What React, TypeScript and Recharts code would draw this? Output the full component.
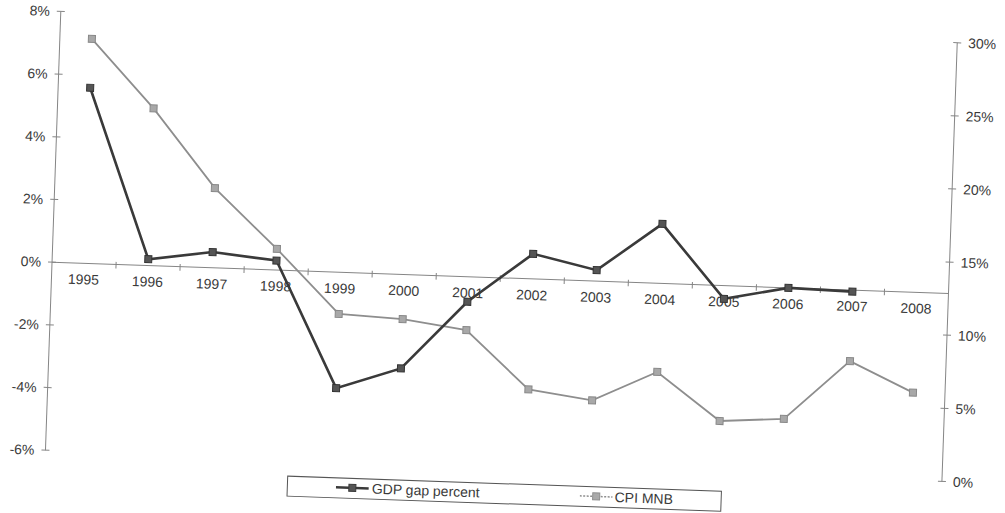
import React from 'react';
import { LineChart, Line, XAxis, YAxis, ReferenceLine, ReferenceDot, Legend } from 'recharts';

const years = [1995, 1996, 1997, 1998, 1999, 2000, 2001, 2002, 2003, 2004, 2005, 2006, 2007, 2008];
const gdpGap: (number | null)[] = [5.6, 0.2, 0.5, 0.3, -3.7, -3.0, -0.8, 0.8, 0.35, 1.9, -0.42, 0.0, -0.05, null];
const cpiMnb = [28.2, 23.6, 18.3, 14.3, 10.0, 9.8, 9.2, 5.3, 4.7, 6.8, 3.6, 3.9, 8.0, 6.0];
const leftTicks = [-6, -4, -2, 0, 2, 4, 6, 8];
const rightTicks = [0, 5, 10, 15, 20, 25, 30];
const boundaries = years.slice(1).map((y) => y - 0.5);

const data = years.map((year, i) => ({ year, gdp: gdpGap[i], cpi: cpiMnb[i] }));

const FONT = '"Liberation Sans", Arial, sans-serif';
const TEXT = '#3a3a3a';
const AXIS = '#858585';
const GDP_COLOR = '#3a3a3a';
const CPI_COLOR = '#8e8e8e';
const M = 11;

const LeftTick = (props: any) => {
  const { x, y, payload } = props;
  return (
    <g>
      <line x1={x + M - 4} x2={x + M + 4} y1={y} y2={y} stroke={AXIS} />
      <text x={x} y={y} dy={5} textAnchor="end" fontSize={14} fill={TEXT} fontFamily={FONT}>
        {payload.value}%
      </text>
    </g>
  );
};

const RightTick = (props: any) => {
  const { x, y, payload } = props;
  return (
    <g>
      <line x1={x - M - 4} x2={x - M + 4} y1={y} y2={y} stroke={AXIS} />
      <text x={x} y={y} dy={5} textAnchor="start" fontSize={14} fill={TEXT} fontFamily={FONT}>
        {payload.value}%
      </text>
    </g>
  );
};

const makeDot = (fill: string, stroke: string) => (props: any) => {
  const { cx, cy, index } = props;
  if (cx == null || cy == null || props.value == null) return <g key={`d${index}`} />;
  return <rect key={`d${index}`} x={cx - 3.5} y={cy - 3.5} width={7} height={7} fill={fill} stroke={stroke} strokeWidth={1} />;
};

const YearLabel = (props: any) => {
  const { cx, cy, label } = props;
  return (
    <text x={cx} y={cy + 21} textAnchor="middle" fontSize={14} fill={TEXT} fontFamily={FONT}>
      {label}
    </text>
  );
};

const Symbol = ({ color, width, dash, fill }: { color: string; width: number; dash?: string; fill: string }) => (
  <svg width={33} height={10} style={{ display: 'block' }}>
    <line x1={0} x2={33} y1={5} y2={5} stroke={color} strokeWidth={width} strokeDasharray={dash} />
    <rect x={13} y={1.5} width={7} height={7} fill={fill} stroke={color} />
  </svg>
);

const LegendBox = () => (
  <div
    style={{
      position: 'relative',
      width: 435,
      height: 21,
      border: '1px solid #555',
      boxSizing: 'border-box',
      background: '#fff',
      fontFamily: FONT,
      fontSize: 14,
      color: TEXT,
    }}
  >
    <div style={{ position: 'absolute', left: 48, top: 4 }}>
      <Symbol color={GDP_COLOR} width={2.5} fill="#555" />
    </div>
    <div style={{ position: 'absolute', left: 84, top: 1, whiteSpace: 'nowrap' }}>GDP gap percent</div>
    <div style={{ position: 'absolute', left: 292, top: 4 }}>
      <Symbol color={CPI_COLOR} width={1.5} dash="2 1.5" fill="#aaa" />
    </div>
    <div style={{ position: 'absolute', left: 327, top: 1, whiteSpace: 'nowrap' }}>CPI MNB</div>
  </div>
);

export default function App() {
  return (
    <div style={{ position: 'absolute', left: 0, top: 0, width: 1005, height: 513, overflow: 'hidden', background: '#fff' }}>
      <div style={{ width: 1005, height: 513, transform: 'rotate(2deg)', transformOrigin: '502.5px 256.5px' }}>
        <LineChart width={1005} height={513} data={data} margin={{ top: 27, right: 5.5, bottom: 47, left: 7.5 }}>
          <XAxis dataKey="year" type="number" domain={[1994.5, 2008.5]} hide allowDataOverflow />
          <YAxis
            yAxisId="left"
            orientation="left"
            width={45}
            domain={[-6, 8]}
            ticks={leftTicks}
            allowDataOverflow
            tickSize={0}
            tickMargin={M}
            tickLine={false}
            axisLine={{ stroke: AXIS }}
            tick={<LeftTick />}
            interval={0}
          />
          <YAxis
            yAxisId="right"
            orientation="right"
            width={50}
            domain={[0, 30]}
            ticks={rightTicks}
            allowDataOverflow
            tickSize={0}
            tickMargin={M}
            tickLine={false}
            axisLine={{ stroke: AXIS }}
            tick={<RightTick />}
            interval={0}
          />
          <ReferenceLine yAxisId="left" y={0} stroke={AXIS} strokeWidth={1} />
          {boundaries.map((b) => (
            <ReferenceLine
              key={`t${b}`}
              yAxisId="left"
              segment={[
                { x: b, y: -0.13 },
                { x: b, y: 0.08 },
              ]}
              stroke={AXIS}
            />
          ))}
          {years.map((y) => (
            <ReferenceDot
              key={`l${y}`}
              yAxisId="left"
              x={y}
              y={0}
              r={1}
              shape={(p: any) => <YearLabel {...p} label={String(y)} />}
            />
          ))}
          <Line
            yAxisId="right"
            dataKey="cpi"
            name="CPI MNB"
            stroke={CPI_COLOR}
            strokeWidth={1.8}
            dot={makeDot('#a8a8a8', '#888')}
            activeDot={false}
            isAnimationActive={false}
          />
          <Line
            yAxisId="left"
            dataKey="gdp"
            name="GDP gap percent"
            stroke={GDP_COLOR}
            strokeWidth={2.6}
            dot={makeDot('#555', '#333')}
            activeDot={false}
            connectNulls={false}
            isAnimationActive={false}
          />
          <Legend
            layout="horizontal"
            verticalAlign="middle"
            align="center"
            content={() => <LegendBox />}
            wrapperStyle={{ position: 'absolute', left: 295, top: 483, width: 435, height: 21 }}
          />
        </LineChart>
      </div>
    </div>
  );
}
